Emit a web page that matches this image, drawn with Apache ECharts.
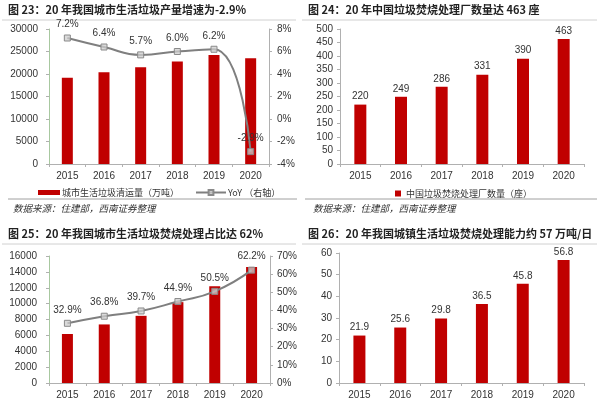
<!DOCTYPE html>
<html><head><meta charset="utf-8">
<script src="https://cdn.jsdelivr.net/npm/echarts@6/dist/echarts.min.js"></script>
<style>html,body{margin:0;padding:0;background:#fff}#c{width:600px;height:400px}</style>
</head><body><div id="c"></div>
<script>
const years = ['2015','2016','2017','2018','2019','2020'];
const mswVolume = [19142, 20362, 21521, 22802, 24206, 23512];
const mswYoY = [7.2, 6.4, 5.7, 6.0, 6.2, -2.9];
const plantCount = [220, 249, 286, 331, 390, 463];
const incinVolume = [6176, 7378, 8463, 10185, 12174, 14608];
const incinShare = [32.9, 36.8, 39.7, 44.9, 50.5, 62.2];
const incinCapacity = [21.9, 25.6, 29.8, 36.5, 45.8, 56.8];

const titles = [
  '图 23：20 年我国城市生活垃圾产量增速为-2.9%',
  '图 24：20 年中国垃圾焚烧处理厂数量达 463 座',
  '图 25：20 年我国城市生活垃圾焚烧处理占比达 62%',
  '图 26：20 年我国城镇生活垃圾焚烧处理能力约 57 万吨/日'
];
const sourceText = '数据来源：住建部，西南证券整理';
const legendNames = ['城市生活垃圾清运量（万吨）', 'YoY （右轴）', '中国垃圾焚烧处理厂数量（座）', '城市生活垃圾焚烧量（万吨）', '焚烧占比（右轴）', '垃圾焚烧处理能力（万吨/日）'];

const RED = '#C00000';
const FONT = 'Liberation Sans, Arial, Noto Sans CJK SC, sans-serif';
const CJK = 'Noto Sans CJK SC, sans-serif';
const txt = '#333';
const plain = v => String(v);

function xAxis(gi) {
  return {
    type: 'category', gridIndex: gi, data: years,
    axisLine: {lineStyle: {color: '#b0b0b0'}},
    axisTick: {show: true, length: 3, lineStyle: {color: '#b0b0b0'}},
    axisLabel: {color: txt, fontSize: 10, fontFamily: FONT, margin: 7}
  };
}
function yAxis(gi, min, max, interval, opts) {
  return Object.assign({
    type: 'value', gridIndex: gi, min: min, max: max, interval: interval,
    splitLine: {show: false},
    axisLine: {show: true, lineStyle: {color: '#b0b0b0'}},
    axisTick: {show: true, length: 3, lineStyle: {color: '#b0b0b0'}},
    axisLabel: {color: txt, fontSize: 10, fontFamily: FONT, margin: 8, formatter: plain}
  }, opts || {});
}
const pctFmt = v => v + '%';
const lineLabel = {show: true, position: 'top', distance: 5, color: txt, fontSize: 10, fontFamily: FONT, formatter: p => p.value.toFixed(1) + '%'};
const markerStyle = {color: 'rgba(205,205,205,0.75)', borderColor: '#8a8a8a', borderWidth: 1};
const titleStyle = {fontSize: 11, fontWeight: 'bold', color: '#222', fontFamily: CJK};
const srcStyle = {fontSize: 9.5, fontStyle: 'italic', fontWeight: 'normal', color: '#333', fontFamily: CJK};

const chart = echarts.init(document.getElementById('c'), null, {renderer: 'canvas'});
chart.setOption({
  animation: false,
  backgroundColor: '#fff',
  title: [
    {text: titles[0], left: 3, top: -1, textStyle: titleStyle},
    {text: titles[1], left: 303, top: -1, textStyle: titleStyle},
    {text: titles[2], left: 3, top: 223, textStyle: titleStyle},
    {text: titles[3], left: 303, top: 223, textStyle: titleStyle},
    {text: sourceText, left: 8, top: 199, textStyle: srcStyle},
    {text: sourceText, left: 308, top: 199, textStyle: srcStyle}
  ],
  graphic: [
    {type: 'line', shape: {x1: 2, y1: 20, x2: 296, y2: 20}, style: {stroke: '#d0d0d0', lineWidth: 1}},
    {type: 'line', shape: {x1: 302, y1: 20, x2: 597, y2: 20}, style: {stroke: '#d0d0d0', lineWidth: 1}},
    {type: 'line', shape: {x1: 2, y1: 244, x2: 296, y2: 244}, style: {stroke: '#d0d0d0', lineWidth: 1}},
    {type: 'line', shape: {x1: 302, y1: 244, x2: 597, y2: 244}, style: {stroke: '#d0d0d0', lineWidth: 1}},
    {type: 'line', shape: {x1: 8, y1: 199, x2: 297, y2: 199}, style: {stroke: '#a0a0a0', lineWidth: 1}},
    {type: 'line', shape: {x1: 305, y1: 199, x2: 597, y2: 199}, style: {stroke: '#a0a0a0', lineWidth: 1}}
  ],
  legend: [
    {data: [{name: legendNames[0], icon: 'rect'}], left: 33, top: 183, itemWidth: 22, itemHeight: 5, itemGap: 2,
     textStyle: {fontSize: 9, color: txt, fontFamily: CJK, padding: [0,0,0,-3]}},
    {data: [legendNames[1]], left: 190, top: 183, itemWidth: 30, itemHeight: 6,
     textStyle: {fontSize: 9, color: txt, fontFamily: CJK, padding: [0,0,0,-3]}},
    {data: [{name: legendNames[2], icon: 'rect'}], left: 390, top: 184, itemWidth: 6, itemHeight: 6,
     textStyle: {fontSize: 9, color: txt, fontFamily: CJK}}
  ],
  grid: [
    {left: 49, top: 29, width: 220, height: 135},
    {left: 340, top: 29, width: 244, height: 135},
    {left: 49, top: 256, width: 221, height: 131},
    {left: 339, top: 253, width: 245, height: 136}
  ],
  xAxis: [xAxis(0), xAxis(1), xAxis(2), xAxis(3)],
  yAxis: [
    yAxis(0, 0, 30000, 5000, {axisLine: {show: true, lineStyle: {color: '#a8c8a0'}}, axisLabel: {color: txt, fontSize: 10, fontFamily: FONT, margin: 11, formatter: plain}}),
    yAxis(0, -4, 8, 2, {position: 'right', axisLabel: {color: txt, fontSize: 10, fontFamily: FONT, margin: 8, formatter: pctFmt}}),
    yAxis(1, 0, 500, 50, {axisLabel: {color: txt, fontSize: 10, fontFamily: FONT, margin: 7, formatter: plain}}),
    yAxis(2, 0, 16000, 2000, {axisLine: {show: true, lineStyle: {color: '#a8c8a0'}}, axisLabel: {color: txt, fontSize: 10, fontFamily: FONT, margin: 12, formatter: plain}}),
    yAxis(2, 0, 70, 10, {position: 'right', axisLabel: {color: txt, fontSize: 10, fontFamily: FONT, margin: 7, formatter: pctFmt}}),
    yAxis(3, 0, 60, 10, {axisLabel: {color: txt, fontSize: 10, fontFamily: FONT, margin: 7, formatter: plain}})
  ],
  series: [
    {name: legendNames[0], type: 'bar', xAxisIndex: 0, yAxisIndex: 0, data: mswVolume, barWidth: 11,
     itemStyle: {color: RED}},
    {name: legendNames[1], type: 'line', xAxisIndex: 0, yAxisIndex: 1, data: mswYoY, smooth: true,
     symbol: 'rect', symbolSize: 6, lineStyle: {color: '#7f7f7f', width: 2}, itemStyle: markerStyle,
     label: lineLabel, z: 3},
    {name: legendNames[2], type: 'bar', xAxisIndex: 1, yAxisIndex: 2, data: plantCount, barWidth: 12,
     itemStyle: {color: RED},
     label: {show: true, position: 'top', distance: 3, color: txt, fontSize: 10, fontFamily: FONT}},
    {name: legendNames[3], type: 'bar', xAxisIndex: 2, yAxisIndex: 3, data: incinVolume, barWidth: 11,
     itemStyle: {color: RED}},
    {name: legendNames[4], type: 'line', xAxisIndex: 2, yAxisIndex: 4, data: incinShare, smooth: true,
     symbol: 'rect', symbolSize: 6, lineStyle: {color: '#7f7f7f', width: 2}, itemStyle: markerStyle,
     label: lineLabel, z: 3},
    {name: legendNames[5], type: 'bar', xAxisIndex: 3, yAxisIndex: 5, data: incinCapacity, barWidth: 12,
     itemStyle: {color: RED},
     label: {show: true, position: 'top', distance: 3, color: txt, fontSize: 10, fontFamily: FONT}}
  ]
});
</script></body></html>
